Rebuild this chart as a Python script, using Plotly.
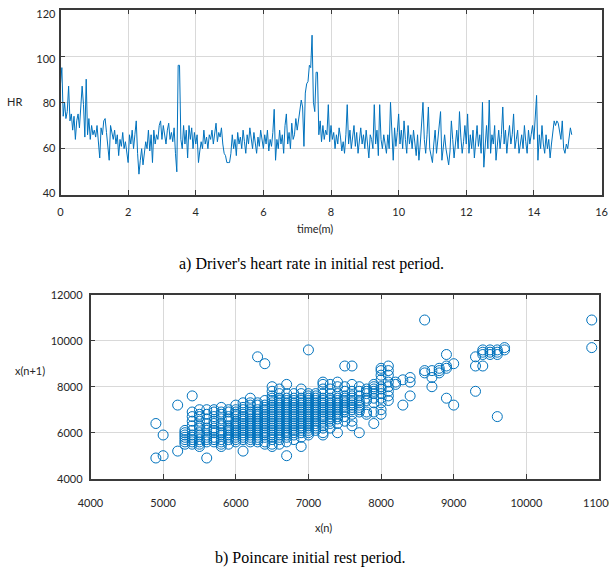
import plotly.graph_objects as go

# ---------------- data ----------------
# Heart rate (bpm), one value every 0.04 min, from 0 to 15.12 min
hr_min00 = [88, 95, 74, 80, 73, 76, 87, 72, 75, 68, 74, 64, 72, 75, 69, 77, 87, 79, 65, 90, 66, 73, 64, 70, 66]
hr_min01 = [68, 65, 70, 63, 56, 69, 66, 72, 73, 67, 62, 55, 70, 66, 64, 68, 62, 66, 57, 64, 61, 67, 60, 63, 58]
hr_min02 = [54, 66, 62, 68, 60, 66, 72, 58, 49, 55, 60, 53, 58, 63, 60, 68, 59, 66, 54, 68, 62, 66, 64, 70, 72]
hr_min03 = [64, 70, 66, 62, 68, 71, 64, 67, 63, 69, 58, 50, 96, 96, 64, 60, 70, 62, 68, 56, 70, 64, 69, 60, 67]
hr_min04 = [62, 66, 54, 59, 63, 60, 68, 62, 65, 60, 66, 64, 68, 62, 66, 71, 63, 67, 65, 69, 62, 58, 57, 54, 54]
hr_min05 = [54, 58, 66, 60, 64, 57, 67, 62, 65, 60, 68, 63, 58, 66, 62, 69, 64, 60, 67, 62, 58, 65, 61, 68, 63]
hr_min06 = [60, 66, 62, 68, 59, 64, 61, 67, 77, 55, 64, 60, 68, 62, 66, 58, 70, 75, 62, 67, 60, 71, 64, 66, 73]
hr_min07 = [68, 72, 78, 81, 78, 61, 84, 88, 89, 96, 95, 109, 80, 76, 93, 93, 66, 72, 63, 70, 64, 68, 66, 79, 63]
hr_min08 = [70, 64, 67, 60, 66, 62, 69, 65, 59, 63, 58, 66, 79, 62, 68, 60, 65, 70, 61, 67, 58, 63, 69, 62, 66]
hr_min09 = [60, 68, 62, 56, 66, 64, 60, 79, 62, 68, 57, 79, 64, 60, 66, 62, 58, 66, 60, 80, 64, 55, 69, 61, 67]
hr_min10 = [75, 62, 68, 60, 72, 64, 58, 70, 62, 66, 60, 68, 63, 57, 66, 55, 62, 70, 80, 64, 58, 66, 78, 60, 57]
hr_min11 = [54, 62, 68, 58, 64, 70, 76, 55, 62, 66, 60, 57, 53, 59, 72, 64, 56, 62, 68, 60, 76, 65, 58, 63, 70]
hr_min12 = [62, 75, 58, 66, 60, 68, 56, 64, 70, 61, 66, 58, 80, 52, 64, 70, 60, 81, 58, 66, 62, 70, 55, 64, 68]
hr_min13 = [60, 66, 78, 62, 68, 58, 65, 70, 62, 66, 75, 60, 64, 68, 58, 62, 66, 60, 70, 63, 58, 68, 62, 66, 70]
hr_min14 = [64, 72, 83, 55, 66, 60, 70, 62, 58, 66, 60, 64, 56, 62, 68, 72, 70, 72, 71, 68, 64, 72, 60, 58, 62]
hr_min15 = [60, 65, 69, 66]
sample_step_min = 0.04

# Poincare plot: x(n) columns and the x(n+1) values observed for each
xn_values = [4900, 5000, 5200, 5300, 5400, 5500, 5600, 5700, 5800, 5900,
             6000, 6100, 6200, 6300, 6400, 6500, 6600, 6700, 6800, 6900,
             7000, 7100, 7200, 7300, 7400, 7500, 7600, 7700, 7800, 7900,
             8000, 8100, 8200, 8300, 8400, 8600, 8700, 8800, 8900, 9000,
             9300, 9400, 9500, 9600, 9700, 10900]
xn1_values = [
    [6400, 4900],
    [5900, 5000],
    [7200, 5200],
    [5500, 5600, 5700, 5800, 5900, 6000, 6100],
    [7600, 6900, 6700, 6500, 6300, 6100, 5900, 5800, 5700, 5600, 5500],
    [7000, 6800, 6700, 6500, 6300, 6200, 6000, 5900, 5700, 5600, 5500, 5400],
    [7000, 6800, 6600, 6400, 6200, 6100, 5900, 5800, 5700, 5600, 4900],
    [7000, 6900, 6700, 6500, 6400, 6200, 6100, 6000, 5800, 5700, 5600],
    [7100, 6900, 6800, 6600, 6400, 6300, 6100, 6000, 5900, 5700, 5600, 5500, 5400],
    [7000, 6900, 6700, 6600, 6500, 6300, 6200, 6100, 6000, 5900, 5800, 5700, 5500],
    [7200, 7000, 6900, 6800, 6700, 6500, 6400, 6300, 6200, 6100, 6000, 5900, 5800, 5700, 5600],
    [7300, 7100, 7000, 6800, 6700, 6600, 6500, 6400, 6300, 6200, 6100, 6000, 5900, 5800, 5700, 5200],
    [7500, 7300, 7200, 7000, 6900, 6800, 6700, 6600, 6500, 6400, 6300, 6200, 6100, 6000, 5900, 5800, 5700, 5600],
    [9300, 7300, 7200, 7000, 6900, 6800, 6700, 6600, 6500, 6400, 6300, 6200, 6100, 6000, 5900, 5800, 5700, 5600],
    [9000, 7400, 7200, 7100, 7000, 6900, 6800, 6700, 6600, 6500, 6400, 6300, 6200, 6100, 6000, 5900, 5800, 5600, 5500],
    [8000, 7800, 7600, 7500, 7400, 7300, 7200, 7100, 7000, 6900, 6800, 6700, 6600, 6500, 6400, 6300, 6200, 6100, 6000, 5900, 5800, 5700, 5500, 5400],
    [7900, 7700, 7500, 7400, 7300, 7200, 7100, 7000, 6900, 6800, 6700, 6600, 6500, 6400, 6300, 6200, 6100, 6000, 5900, 5800, 5700, 5500],
    [8100, 7700, 7500, 7400, 7300, 7200, 7100, 7000, 6900, 6800, 6700, 6600, 6500, 6400, 6300, 6200, 6100, 6000, 5900, 5800, 5600, 5000],
    [7700, 7500, 7400, 7300, 7200, 7100, 7000, 6900, 6800, 6700, 6600, 6500, 6400, 6300, 6200, 6100, 6000, 5900, 5700],
    [7900, 7700, 7500, 7400, 7300, 7200, 7100, 7000, 6900, 6800, 6700, 6600, 6500, 6400, 6300, 6200, 6100, 6000, 5800, 5400],
    [9600, 7700, 7600, 7500, 7400, 7300, 7200, 7100, 7000, 6900, 6800, 6700, 6600, 6500, 6400, 6300, 6200, 6100, 6000, 5900],
    [7700, 7600, 7500, 7400, 7300, 7200, 7100, 7000, 6900, 6800, 6700, 6600, 6500, 6400, 6300, 6200, 6100],
    [8200, 8100, 7900, 7700, 7500, 7400, 7300, 7200, 7100, 7000, 6900, 6800, 6700, 6600, 6500, 6300, 6200, 6000, 5900],
    [8100, 7900, 7700, 7500, 7400, 7300, 7200, 7100, 7000, 6900, 6800, 6700, 6600, 6500, 6400, 6200],
    [8200, 8000, 7700, 7500, 7400, 7300, 7200, 7100, 7000, 6900, 6800, 6700, 6600, 6400, 6000],
    [8900, 8000, 7800, 7600, 7500, 7400, 7300, 7200, 7100, 7000, 6900, 6700, 6500],
    [8900, 8100, 7800, 7600, 7500, 7400, 7300, 7200, 7100, 7000, 6800, 6500, 6300],
    [8000, 7800, 7600, 7400, 7300, 7200, 7100, 7000, 6900, 6000],
    [7900, 7800, 7700, 7500, 7400, 6900, 6800],
    [8100, 8000, 7900, 7800, 7700, 7500, 7300, 6900, 6400],
    [8800, 8700, 8500, 8300, 8000, 7900, 7700, 7500, 7300, 7000, 6800],
    [8900, 8700, 8500, 8200, 8000, 7800, 7600, 7400],
    [8200, 8100],
    [8300, 7200],
    [8400, 8200, 7600],
    [10900, 8700, 8600],
    [8700, 8400, 8000],
    [8800, 8700, 8600],
    [9400, 8900, 8800, 7500],
    [9000, 7200],
    [9300, 8900, 7800],
    [9600, 9500, 9400, 8900],
    [9600, 9500, 9400],
    [9600, 9500, 9400, 6700],
    [9700, 9600],
    [10900, 9700],
]

hr_ticks = [40, 60, 80, 100, 120]
time_ticks = [0, 2, 4, 6, 8, 10, 12, 14, 16]
xn_ticks = [4000, 5000, 6000, 7000, 8000, 9000, 10000, 11000]
xn1_ticks = [4000, 6000, 8000, 10000, 12000]

# ---------------- build ----------------
hr = (hr_min00 + hr_min01 + hr_min02 + hr_min03 + hr_min04 + hr_min05 + hr_min06 + hr_min07
      + hr_min08 + hr_min09 + hr_min10 + hr_min11 + hr_min12 + hr_min13 + hr_min14 + hr_min15)
time_m = [i * sample_step_min for i in range(len(hr))]

px, py = [], []
for xv, ylist in zip(xn_values, xn1_values):
    for yv in ylist:
        px.append(xv)
        py.append(yv)

W, H = 609, 570
BLUE = "#0072BD"
GRID = "#d9d9d9"
AXC = "#3a3a3a"
TICKFONT = dict(family="Lato, Open Sans, sans-serif", size=11, color="#262626")

fig = go.Figure()
fig.add_trace(go.Scatter(x=time_m, y=hr, mode="lines",
                         line=dict(color=BLUE, width=1), xaxis="x", yaxis="y",
                         showlegend=False))
# invisible anchor so that the label-only HR axis is drawn
fig.add_trace(go.Scatter(x=time_m[:1], y=hr[:1], mode="markers", marker=dict(opacity=0),
                         xaxis="x", yaxis="y3", showlegend=False, hoverinfo="skip"))
fig.add_trace(go.Scatter(x=px, y=py, mode="markers",
                         marker=dict(symbol="circle-open", size=10, color=BLUE,
                                     line=dict(width=1, color=BLUE)),
                         xaxis="x2", yaxis="y2", showlegend=False))

def pxx(v):
    return v / W

def pyy(v):
    return 1 - v / H

axis_common = dict(showgrid=True, gridcolor=GRID, gridwidth=1, showline=True,
                   linecolor=AXC, linewidth=1.5, mirror="ticks", ticks="inside",
                   ticklen=5, tickcolor=AXC, tickfont=TICKFONT, zeroline=False,
                   automargin=False, tickformat="d", ticklabeloverflow="allow")

top_dom = [pyy(195), pyy(9.7)]
fig.update_layout(
    template="none",
    width=W, height=H, margin=dict(l=0, r=0, t=0, b=0, autoexpand=False),
    paper_bgcolor="white", plot_bgcolor="white",
    xaxis=dict(domain=[pxx(60.5), pxx(601.5)], range=[0, 16], tickvals=time_ticks,
               anchor="y", ticklabelstandoff=6, **axis_common),
    yaxis=dict(domain=top_dom, range=[40, 120], tickvals=hr_ticks,
               anchor="x", showticklabels=False, **axis_common),
    # label-only axis: the source figure's HR labels sit slightly inside the frame
    yaxis3=dict(domain=top_dom, range=[39.1, 121.9], tickvals=hr_ticks, overlaying="y",
                anchor="x", side="left", showgrid=False, showline=False, ticks="",
                zeroline=False, automargin=False, tickfont=TICKFONT,
                ticklabelstandoff=4, ticklabeloverflow="allow"),
    xaxis2=dict(domain=[pxx(90.5), pxx(599)], range=[4000, 11000], tickvals=xn_ticks,
                anchor="y2", ticklabelstandoff=13, **axis_common),
    yaxis2=dict(domain=[pyy(478.7), pyy(294.7)], range=[4000, 12000], tickvals=xn1_ticks,
                anchor="x2", ticklabelstandoff=4, **axis_common),
)

def ann(text, x, y, size=11, family="Lato, Open Sans, sans-serif", color="#262626",
        xanchor="center"):
    fig.add_annotation(text=text, x=pxx(x), y=pyy(y), xref="paper", yref="paper",
                       showarrow=False, xanchor=xanchor, yanchor="middle",
                       font=dict(family=family, size=size, color=color))

ann("HR", 5, 101, xanchor="left")
ann("time(m)", 315, 228)
ann("x(n+1)", 30, 370)
ann("x(n)", 323, 527)
ann("a) Driver's heart rate in initial rest period.", 311, 264, size=16,
    family="Liberation Serif, Times New Roman, serif", color="#000000")
ann("b) Poincare initial rest period.", 310, 558, size=16,
    family="Liberation Serif, Times New Roman, serif", color="#000000")

fig.write_html(
    "out.html",
    config={"displayModeBar": False},
    post_script="document.body.style.margin='0';document.body.style.overflow='hidden';",
)
